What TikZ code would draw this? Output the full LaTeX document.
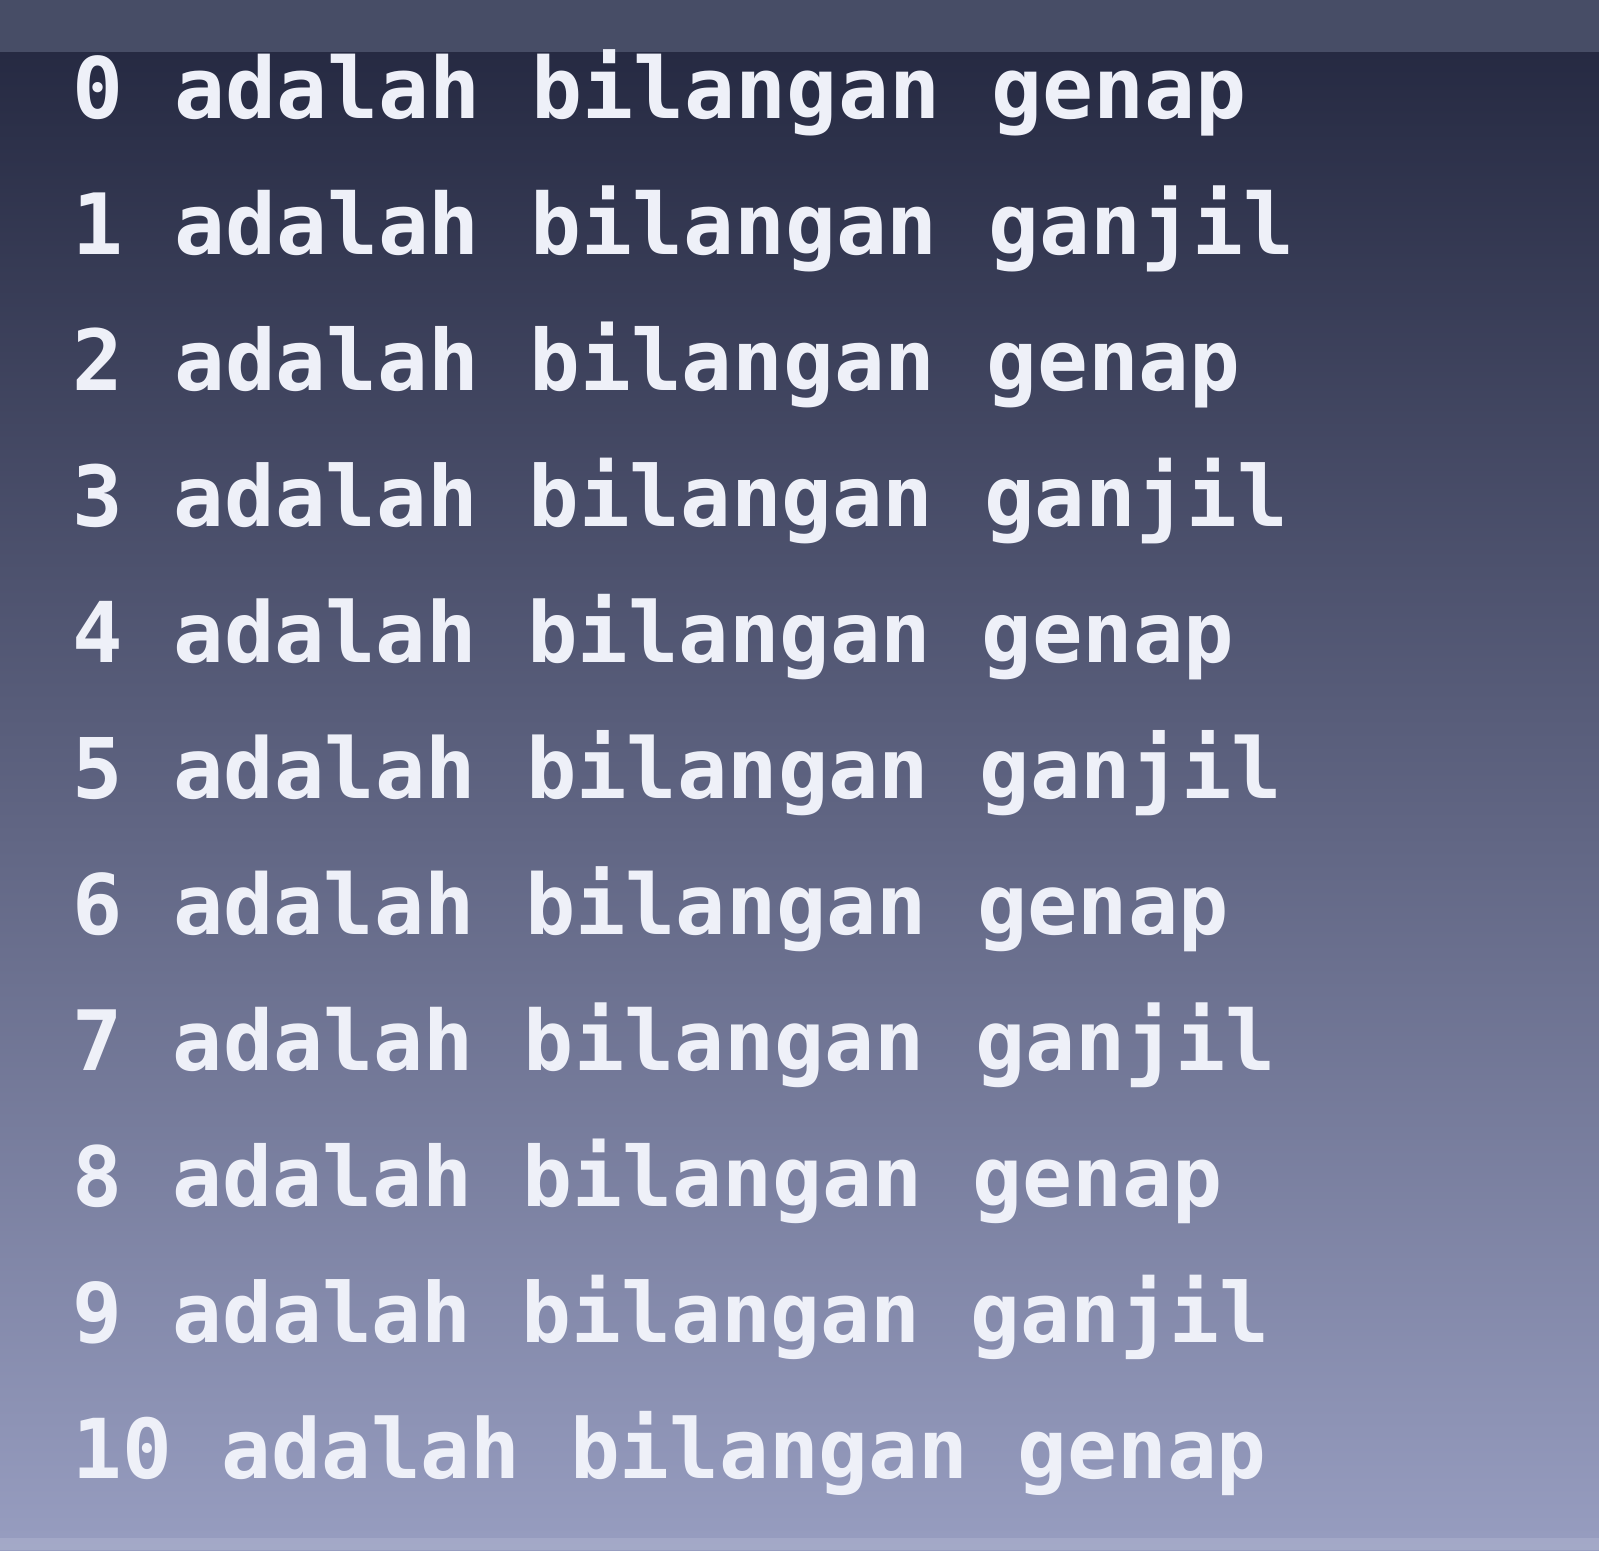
\documentclass[tikz,border=0pt]{standalone}
\usepackage{fontspec}
\setmonofont{DejaVu Sans Mono}
\definecolor{screentop}{HTML}{22263E}
\definecolor{screenmid}{HTML}{666C91}
\definecolor{screenbot}{HTML}{979DC0}
\definecolor{bezel}{HTML}{474D66}
\definecolor{glow}{HTML}{EEF0F8}
\tikzset{outline/.style={text=glow,anchor=base west,inner sep=0pt}}
\begin{document}
\begin{tikzpicture}[x=0.01cm,y=-0.01cm]
\useasboundingbox (0,0) rectangle (1599,1550);
\shade[top color=screentop,middle color=screenmid,bottom color=screenbot] (0,0) rectangle (1599,1550);
\fill[bezel] (0,0) rectangle (1599,52);
\fill[screenbot!80!white,opacity=0.6] (0,1538) rectangle (1599,1550);
\foreach \n in {0,...,10}{
  \pgfmathtruncatemacro{\r}{mod(\n,2)}
  \pgfmathsetmacro{\fs}{24.1-0.06*\n}
  \ifnum\r=0 \def\kind{genap}\else\def\kind{ganjil}\fi
  \node[outline,font=\ttfamily\bfseries\fontsize{\fs}{28}\selectfont] (l\n) at (72,{118+136*\n}) {\n{} adalah bilangan \kind};
}
\end{tikzpicture}
\end{document}
